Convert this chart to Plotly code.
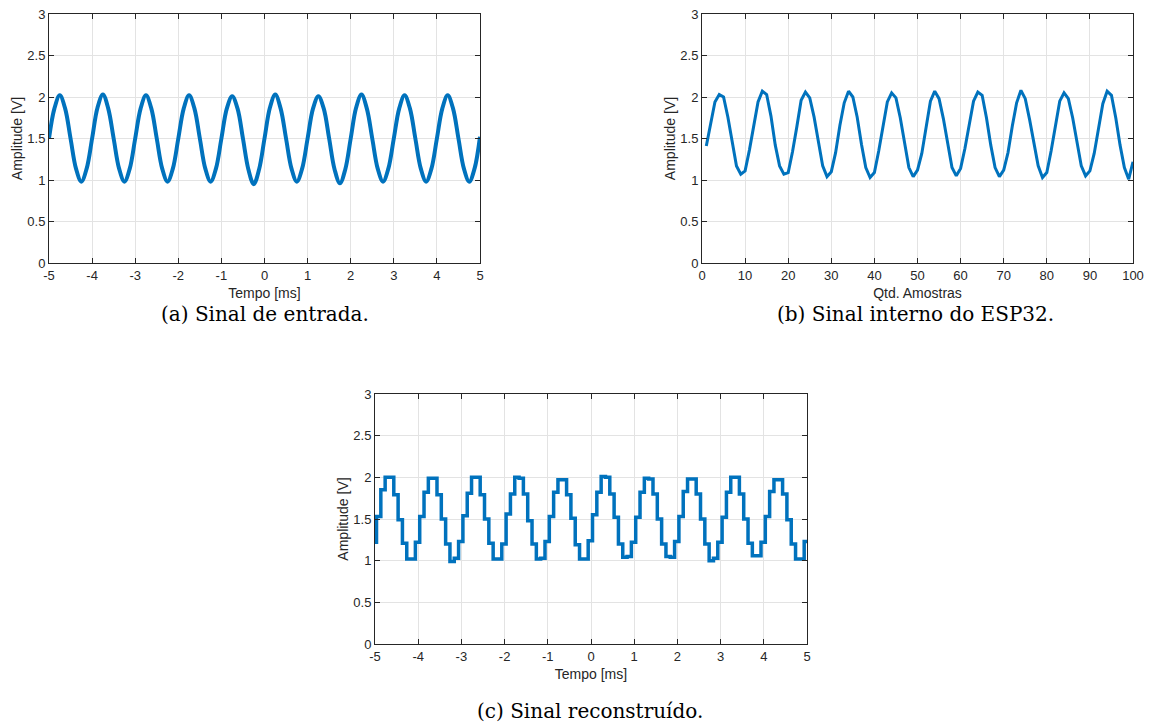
import numpy as np
import plotly.graph_objects as go

# ---------------- data ----------------
# (a) input signal, sampled every 0.125 ms from -5 to 5 ms
t_a_start, t_a_step = -5.0, 0.125
amp_a = [
    1.50, 1.86, 2.02, 1.86, 1.50, 1.14, 0.98, 1.14,
    1.50, 1.87, 2.03, 1.86, 1.50, 1.14, 0.98, 1.14,
    1.50, 1.86, 2.02, 1.86, 1.50, 1.14, 0.98, 1.14,
    1.50, 1.86, 2.02, 1.86, 1.50, 1.14, 0.98, 1.14,
    1.50, 1.86, 2.01, 1.86, 1.50, 1.13, 0.95, 1.13,
    1.50, 1.87, 2.03, 1.86, 1.50, 1.14, 0.98, 1.14,
    1.50, 1.86, 2.01, 1.86, 1.50, 1.13, 0.96, 1.13,
    1.50, 1.87, 2.03, 1.86, 1.50, 1.14, 0.98, 1.14,
    1.50, 1.86, 2.02, 1.86, 1.50, 1.14, 0.98, 1.14,
    1.50, 1.86, 2.02, 1.86, 1.50, 1.14, 0.98, 1.14,
    1.52,
]

# (b) ESP32 internal samples 1..100
samples_b = list(range(1, 101))
amp_b = [
    1.41, 1.68, 1.94, 2.03, 2.00, 1.76, 1.47, 1.17, 1.07, 1.11,
    1.36, 1.66, 1.94, 2.07, 2.03, 1.77, 1.42, 1.17, 1.07, 1.09,
    1.34, 1.64, 1.96, 2.06, 1.99, 1.76, 1.44, 1.17, 1.04, 1.10,
    1.33, 1.66, 1.93, 2.07, 2.00, 1.76, 1.43, 1.15, 1.03, 1.09,
    1.35, 1.66, 1.94, 2.05, 1.99, 1.75, 1.43, 1.15, 1.04, 1.12,
    1.32, 1.65, 1.95, 2.07, 1.98, 1.74, 1.42, 1.15, 1.05, 1.14,
    1.38, 1.66, 1.95, 2.06, 2.02, 1.75, 1.42, 1.15, 1.04, 1.12,
    1.33, 1.65, 1.93, 2.08, 1.98, 1.73, 1.45, 1.17, 1.03, 1.09,
    1.35, 1.65, 1.95, 2.05, 1.98, 1.75, 1.45, 1.17, 1.05, 1.11,
    1.32, 1.63, 1.92, 2.07, 2.02, 1.75, 1.42, 1.15, 1.01, 1.22,
]

# (c) reconstructed (DAC) signal: step levels, each held 0.1 ms
t_c_first_step, t_c_hold = -4.965, 0.1
amp_c_initial = 1.22
amp_c = [
    1.53, 1.85, 2.00, 2.00, 1.79, 1.49, 1.21, 1.02, 1.02, 1.22,
    1.53, 1.82, 1.99, 1.99, 1.79, 1.50, 1.20, 0.99, 1.03, 1.23,
    1.54, 1.81, 2.00, 2.00, 1.79, 1.50, 1.21, 1.02, 1.02, 1.20,
    1.56, 1.80, 2.00, 1.99, 1.80, 1.48, 1.20, 1.02, 1.03, 1.23,
    1.53, 1.82, 1.97, 1.97, 1.79, 1.51, 1.19, 1.02, 1.02, 1.24,
    1.55, 1.82, 2.01, 2.00, 1.80, 1.52, 1.20, 1.04, 1.05, 1.22,
    1.52, 1.82, 1.99, 1.98, 1.80, 1.50, 1.20, 1.05, 1.04, 1.23,
    1.53, 1.83, 1.98, 1.98, 1.80, 1.50, 1.20, 1.00, 1.03, 1.22,
    1.52, 1.82, 2.00, 2.00, 1.80, 1.50, 1.21, 1.06, 1.06, 1.22,
    1.53, 1.83, 1.97, 1.97, 1.80, 1.49, 1.20, 1.02, 1.02, 1.23,
]

x_ticks_time = [-5, -4, -3, -2, -1, 0, 1, 2, 3, 4, 5]
x_ticks_samples = [0, 10, 20, 30, 40, 50, 60, 70, 80, 90, 100]
y_ticks = [0, 0.5, 1, 1.5, 2, 2.5, 3]
y_tick_labels = ["0", "0.5", "1", "1.5", "2", "2.5", "3"]

captions = ["(a) Sinal de entrada.", "(b) Sinal interno do ESP32.", "(c) Sinal reconstruído."]

# ---------------- figure ----------------
W, H = 1149, 728
BLUE = "#0072BD"
DARK = "#262626"
GRID = "#e3e3e3"

t_a = t_a_start + t_a_step * np.arange(len(amp_a))
t_c = np.concatenate([[-5.0], t_c_first_step + t_c_hold * np.arange(len(amp_c)), [5.0]])
y_c = [amp_c_initial] + amp_c + [amp_c[-1]]

fig = go.Figure()
fig.add_trace(go.Scatter(x=t_a, y=amp_a, mode="lines", line=dict(color=BLUE, width=4, shape="spline"),
                         xaxis="x", yaxis="y", showlegend=False))
fig.add_trace(go.Scatter(x=samples_b, y=amp_b, mode="lines", line=dict(color=BLUE, width=3),
                         xaxis="x2", yaxis="y2", showlegend=False))
fig.add_trace(go.Scatter(x=t_c, y=y_c, mode="lines", line=dict(color=BLUE, width=3.5, shape="hv"),
                         xaxis="x3", yaxis="y3", showlegend=False))


def px_x(a, b):
    return [a / W, b / W]


def px_y(top, bottom):
    return [1 - bottom / H, 1 - top / H]


axis_common = dict(
    showline=True, linecolor=DARK, linewidth=1, mirror="ticks",
    ticks="inside", ticklen=5, tickcolor=DARK, tickwidth=1,
    showgrid=True, gridcolor=GRID, gridwidth=1, zeroline=False, automargin=False,
    tickfont=dict(family="Liberation Sans, Arial, sans-serif", size=13, color=DARK),
)
title_font = dict(family="Liberation Sans, Arial, sans-serif", size=14, color=DARK)
time_labels = [str(v) for v in x_ticks_time]

fig.update_layout(
    width=W, height=H, margin=dict(l=0, r=0, t=0, b=0, autoexpand=False),
    paper_bgcolor="white", plot_bgcolor="white",
    xaxis=dict(domain=px_x(49, 480), range=[-5, 5], tickvals=x_ticks_time, ticktext=time_labels, anchor="y",
               title=dict(text="Tempo [ms]", font=title_font, standoff=6), **axis_common),
    yaxis=dict(domain=px_y(14, 263), range=[0, 3], tickvals=y_ticks, ticktext=y_tick_labels, anchor="x",
               title=dict(text="Amplitude [V]", font=title_font, standoff=1), **axis_common),
    xaxis2=dict(domain=px_x(702, 1133), range=[0, 100], tickvals=x_ticks_samples, anchor="y2",
                title=dict(text="Qtd. Amostras", font=title_font, standoff=6), **axis_common),
    yaxis2=dict(domain=px_y(14, 263), range=[0, 3], tickvals=y_ticks, ticktext=y_tick_labels, anchor="x2",
                title=dict(text="Amplitude [V]", font=title_font, standoff=1), **axis_common),
    xaxis3=dict(domain=px_x(375, 807), range=[-5, 5], tickvals=x_ticks_time, ticktext=time_labels, anchor="y3",
                title=dict(text="Tempo [ms]", font=title_font, standoff=6), **axis_common),
    yaxis3=dict(domain=px_y(394, 644), range=[0, 3], tickvals=y_ticks, ticktext=y_tick_labels, anchor="x3",
                title=dict(text="Amplitude [V]", font=title_font, standoff=1), **axis_common),
)

cap_font = dict(family="DejaVu Serif, serif", size=20, color="black")
cap_pos = [(265, 314), (916, 314), (590, 711)]
for text, (cx, cy) in zip(captions, cap_pos):
    fig.add_annotation(text=text, x=cx / W, y=1 - cy / H, xref="paper", yref="paper",
                       showarrow=False, xanchor="center", yanchor="middle", font=cap_font)

fig.write_html("out.html", config={"displayModeBar": False},
               post_script="document.body.style.margin='0';")
